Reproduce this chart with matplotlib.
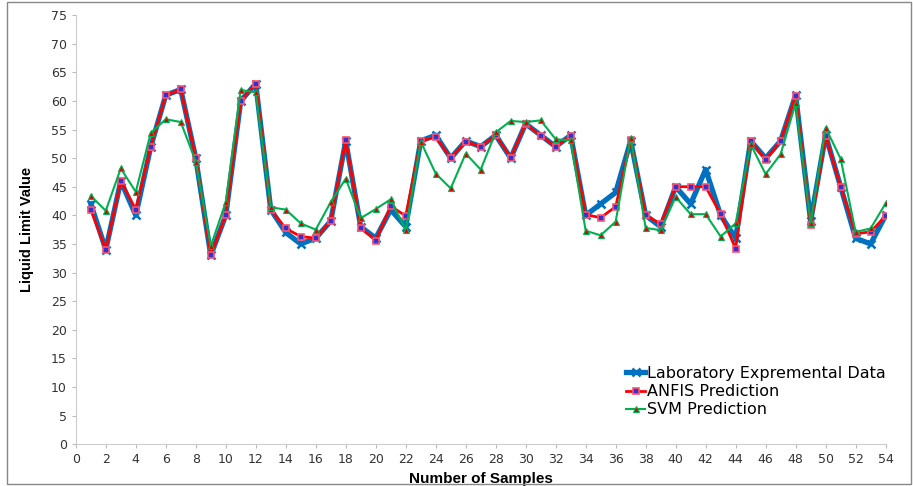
import matplotlib
matplotlib.use("Agg")
import matplotlib.pyplot as plt
from matplotlib.patches import Rectangle

samples = list(range(1, 55))

lab = [42, 34, 46, 40, 52, 61, 62, 50, 33, 40,
       60, 63, 41, 37, 35, 36, 39, 53, 38, 36,
       41, 38, 53, 54, 50, 53, 52, 54, 50, 56,
       54, 52, 54, 40, 42, 44, 53, 40, 38, 45,
       42, 48, 40, 36, 53, 50, 53, 61, 39, 54,
       45, 36, 35, 40]

anfis = [41, 34, 46, 41, 52, 61, 62, 50, 33, 40,
         60, 63, 41, 37.7, 36.3, 36, 39, 53.2, 37.8, 35.6,
         41.6, 39.9, 53, 53.7, 50, 52.9, 52, 54, 50.1, 56,
         53.9, 52, 53.9, 40.1, 39.6, 41.5, 53.1, 40, 38.5, 45,
         45, 45, 40.2, 34.2, 53, 49.7, 53, 60.9, 38.3, 53.9,
         45, 36.8, 37.1, 39.9]

svm = [43.4, 40.8, 48.2, 44.1, 54.4, 56.8, 56.3, 49.4, 34.6, 42.3,
       61.9, 61.5, 41.4, 41, 38.6, 37.5, 42.3, 46.4, 39.5, 41.1,
       42.8, 37.4, 52.9, 47.3, 44.7, 50.8, 48, 54.5, 56.5, 56.3,
       56.6, 53.3, 53.1, 37.3, 36.5, 38.9, 53.6, 37.8, 37.4, 43.2,
       40.2, 40.2, 36.3, 38.6, 52.4, 47.2, 50.7, 59.6, 38.6, 55.3,
       49.9, 37.1, 37.7, 42.1]

fig = plt.figure(figsize=(9.13, 4.86), dpi=100)
ax = fig.add_axes([0.083, 0.086, 0.887, 0.883])

ax.plot(samples, lab, color="#0070C0", lw=3.8, marker="x", ms=5.5, mew=1.8,
        mec="#0070C0", label="Laboratory Expremental Data", zorder=2)
ax.plot(samples, anfis, color="#FF0000", lw=2, marker="s", ms=5, mew=1.2,
        mfc="#3333CC", mec="#FF5070", label="ANFIS Prediction", zorder=3)
ax.plot(samples, svm, color="#00B050", lw=1.5, marker="^", ms=5, mew=0.8,
        mfc="#E00000", mec="#00B050", label="SVM Prediction", zorder=4)

ax.set_xlim(0, 54)
ax.set_ylim(0, 75)
ax.set_xticks(range(0, 55, 2))
ax.set_yticks(range(0, 76, 5))
ax.tick_params(labelsize=9, colors="#333333", length=3, color="#BBBBBB")
for side in ["top", "right"]:
    ax.spines[side].set_visible(False)
for side in ["left", "bottom"]:
    ax.spines[side].set_color("#CCCCCC")

ax.set_xlabel("Number of Samples", fontsize=11, fontweight="bold",
              family="Liberation Sans", labelpad=4)
ax.set_ylabel("Liquid Limit Value", fontsize=10.5, fontweight="bold",
              family="Liberation Sans", labelpad=12)

ax.legend(loc="lower right", bbox_to_anchor=(1.012, 0.04), frameon=False,
          fontsize=11.5, handlelength=1.2, handletextpad=0.1,
          labelspacing=0.2, borderaxespad=0.2)

fig.patches.append(Rectangle((0.008, 0.005), 0.99, 0.99, transform=fig.transFigure,
                             fill=False, edgecolor="#888888", lw=1))

fig.savefig("out.png", dpi=100)
